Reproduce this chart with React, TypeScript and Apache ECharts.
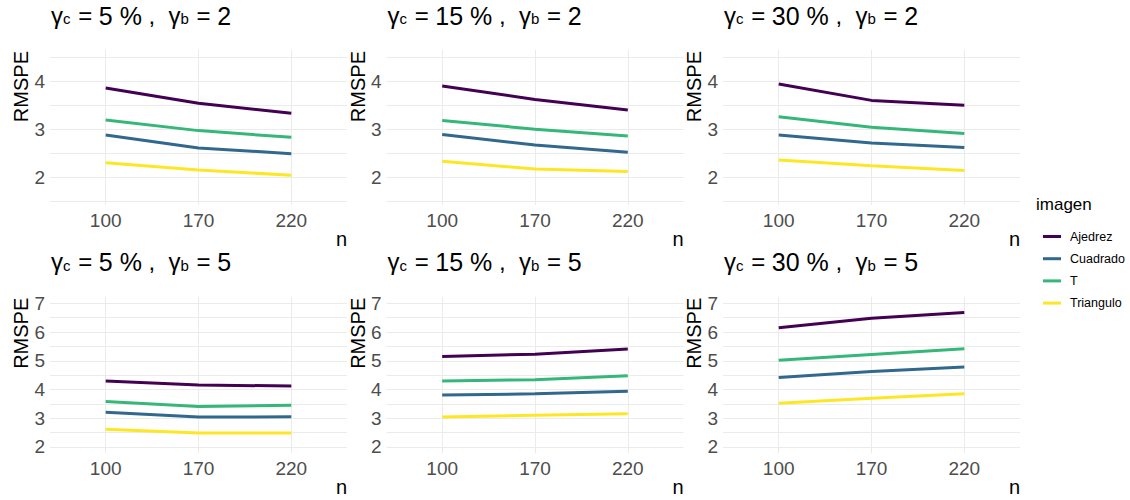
import { useEffect, useRef } from "react";
import * as echarts from "echarts";

// Sample sizes on the (discrete) x axis
const sampleSizes = ["100", "170", "220"];
// Image types, in drawing / legend order
const images = ["Ajedrez", "Cuadrado", "T", "Triangulo"];
const imageColors = ["#440154", "#31688E", "#35B779", "#FDE725"];

// Contamination levels (columns) and gamma_b levels (rows)
const gammaCLabels = ["5 %", "15 %", "30 %"];
const gammaBLabels = ["2", "5"];

// RMSPE by image (rows follow `images`) and sample size (columns follow `sampleSizes`)
const rmspeC5B2 = [
  [3.86, 3.54, 3.33],
  [2.88, 2.61, 2.49],
  [3.19, 2.97, 2.83],
  [2.3, 2.15, 2.04],
];
const rmspeC15B2 = [
  [3.9, 3.62, 3.4],
  [2.89, 2.67, 2.52],
  [3.18, 3.0, 2.86],
  [2.33, 2.17, 2.12],
];
const rmspeC30B2 = [
  [3.94, 3.6, 3.5],
  [2.88, 2.71, 2.62],
  [3.26, 3.04, 2.91],
  [2.36, 2.24, 2.14],
];
const rmspeC5B5 = [
  [4.3, 4.16, 4.12],
  [3.21, 3.04, 3.05],
  [3.58, 3.41, 3.45],
  [2.62, 2.49, 2.49],
];
const rmspeC15B5 = [
  [5.15, 5.23, 5.41],
  [3.81, 3.85, 3.94],
  [4.3, 4.34, 4.48],
  [3.04, 3.1, 3.16],
];
const rmspeC30B5 = [
  [6.15, 6.48, 6.68],
  [4.42, 4.63, 4.78],
  [5.02, 5.22, 5.42],
  [3.52, 3.7, 3.85],
];

// Y tick labels and grid line values per row
const topRowTicks = [2, 3, 4];
const topRowGrid = [1.5, 2, 2.5, 3, 3.5, 4, 4.5];
const bottomRowTicks = [2, 3, 4, 5, 6, 7];
const bottomRowGrid = [2, 2.5, 3, 3.5, 4, 4.5, 5, 5.5, 6, 6.5, 7];

const panels = [
  { row: 0, col: 0, data: rmspeC5B2 },
  { row: 0, col: 1, data: rmspeC15B2 },
  { row: 0, col: 2, data: rmspeC30B2 },
  { row: 1, col: 0, data: rmspeC5B5 },
  { row: 1, col: 1, data: rmspeC15B5 },
  { row: 1, col: 2, data: rmspeC30B5 },
];

// Layout of the 2 x 3 panel grid
const colLeft = [50, 386.5, 723];
const plotWidth = 297;
const rowTop = [50, 296.7];
const rowHeight = [155, 156.6];
const rowYRange = [
  [1.42, 4.65],
  [1.78, 7.23],
];

const FONT = "'Liberation Sans', Arial, 'DejaVu Sans', sans-serif";

export default function App() {
  const ref = useRef<HTMLDivElement>(null);

  useEffect(() => {
    if (!ref.current) return;
    const chart = echarts.init(ref.current, undefined, { renderer: "svg" });

    const grids: any[] = [];
    const xAxes: any[] = [];
    const yAxes: any[] = [];
    const series: any[] = [];
    const graphics: any[] = [];

    panels.forEach((p, i) => {
      const left = colLeft[p.col];
      const top = rowTop[p.row];
      const height = rowHeight[p.row];
      const [yMin, yMax] = rowYRange[p.row];
      const ticks = p.row === 0 ? topRowTicks : bottomRowTicks;
      const gridVals = p.row === 0 ? topRowGrid : bottomRowGrid;

      grids.push({ left, top, width: plotWidth, height, containLabel: false });

      xAxes.push({
        gridIndex: i,
        type: "value",
        min: 0.4,
        max: 3.6,
        axisLine: { show: false },
        axisTick: { show: false, customValues: sampleSizes.map((_, j) => j + 1) },
        axisLabel: {
          customValues: sampleSizes.map((_, j) => j + 1),
          formatter: (v: number) => sampleSizes[Math.round(v) - 1] ?? "",
          color: "#4D4D4D",
          fontSize: 19,
          fontFamily: FONT,
          margin: 6,
        },
        splitLine: { show: true, lineStyle: { color: "#EBEBEB", width: 1 } },
      });

      yAxes.push({
        gridIndex: i,
        type: "value",
        min: yMin,
        max: yMax,
        axisLine: { show: false },
        axisTick: { show: false, customValues: gridVals },
        axisLabel: {
          customValues: ticks,
          color: "#4D4D4D",
          fontSize: 19,
          fontFamily: FONT,
          margin: 5,
        },
        splitLine: { show: true, lineStyle: { color: "#EBEBEB", width: 1 } },
      });

      images.forEach((name, k) => {
        series.push({
          type: "line",
          name,
          xAxisIndex: i,
          yAxisIndex: i,
          data: p.data[k].map((v, j) => [j + 1, v]),
          symbol: "none",
          showSymbol: false,
          lineStyle: { width: 3, color: imageColors[k] },
          itemStyle: { color: imageColors[k] },
          z: 3,
        });
      });

      // Panel title: gamma_c = x %, gamma_b = y
      graphics.push({
        type: "text",
        left: left + 1,
        top: top - 47,
        style: {
          text: `{g|γ}{s|c}{e| = }{v|${gammaCLabels[p.col]}}{e| ,  }{g|γ}{s|b}{e| = }{v|${gammaBLabels[p.row]}}`,
          rich: {
            g: { fontSize: 24, fontFamily: FONT, fill: "#000", lineHeight: 28, verticalAlign: "top" },
            s: { fontSize: 15, fontFamily: FONT, fill: "#000", lineHeight: 28, verticalAlign: "top", padding: [8, 1, 0, 0] },
            e: { fontSize: 24, fontFamily: FONT, fill: "#000", lineHeight: 28, verticalAlign: "top" },
            v: { fontSize: 25, fontFamily: FONT, fill: "#000", lineHeight: 28, verticalAlign: "top" },
          },
        },
      });

      // Y axis title, placed at the top of the axis
      graphics.push({
        type: "text",
        x: left - 29,
        y: top + 1,
        rotation: Math.PI / 2,
        style: {
          text: "RMSPE",
          fontSize: 20,
          fontFamily: FONT,
          fill: "#000",
          align: "right",
          verticalAlign: "middle",
        },
      });

      // X axis title at the right end of the axis
      graphics.push({
        type: "text",
        x: left + plotWidth,
        y: top + height + 34,
        style: {
          text: "n",
          fontSize: 20,
          fontFamily: FONT,
          fill: "#000",
          align: "right",
          verticalAlign: "middle",
        },
      });
    });

    // Legend title
    graphics.push({
      type: "text",
      x: 1036,
      y: 204,
      style: {
        text: "imagen",
        fontSize: 17,
        fontFamily: FONT,
        fill: "#000",
        align: "left",
        verticalAlign: "middle",
      },
    });

    chart.setOption({
      animation: false,
      backgroundColor: "#FFFFFF",
      grid: grids,
      xAxis: xAxes,
      yAxis: yAxes,
      series,
      graphic: graphics,
      legend: {
        data: images,
        orient: "vertical",
        left: 1038,
        top: 223.5,
        icon: "rect",
        itemWidth: 18,
        itemHeight: 3,
        itemGap: 6.2,
        selectedMode: false,
        textStyle: {
          fontSize: 12.5,
          fontFamily: FONT,
          color: "#000",
          lineHeight: 16,
          padding: [0, 0, 0, 4],
        },
      },
    });

    return () => chart.dispose();
  }, []);

  return (
    <div
      ref={ref}
      style={{ position: "fixed", left: 0, top: 0, width: 1130, height: 500 }}
    />
  );
}
